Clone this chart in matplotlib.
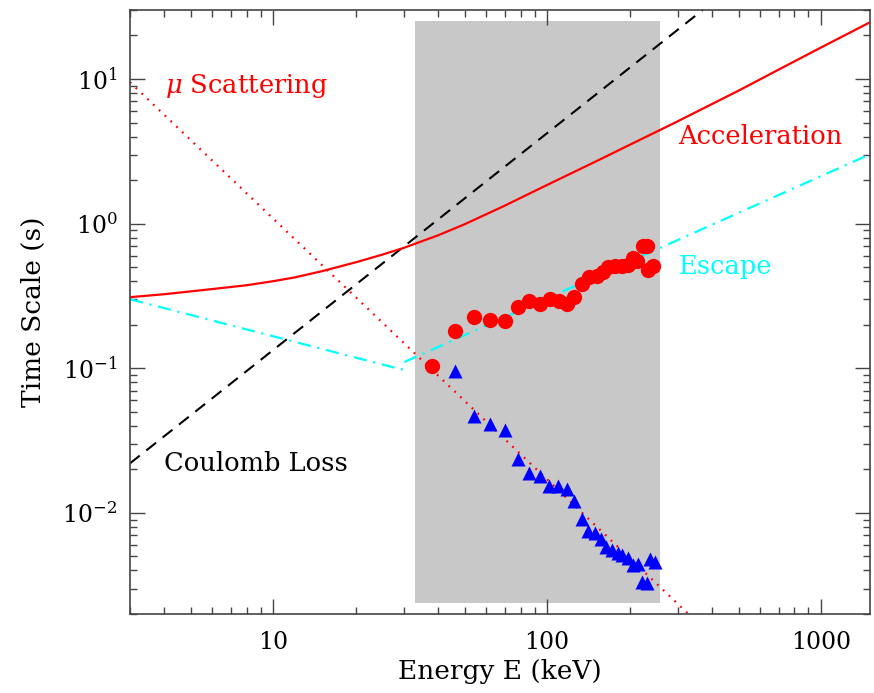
import numpy as np
import matplotlib
matplotlib.use('Agg')
import matplotlib.pyplot as plt
from matplotlib.ticker import LogLocator, NullFormatter, FixedLocator, FixedFormatter

# energies in keV, time scales in s
acc_e = [3, 4, 5, 6, 8, 10, 12, 15, 20, 25, 30, 40, 50, 70, 100, 150, 200, 300, 500, 700, 1000, 1500]
acc_t = [0.310, 0.325, 0.340, 0.353, 0.375, 0.400, 0.425, 0.468, 0.540, 0.610, 0.680, 0.830,
         0.990, 1.33, 1.85, 2.68, 3.50, 5.10, 8.3, 11.6, 16.5, 24.5]

cou_e = [3, 370]
cou_t = [0.022, 30.0]

sca_e = [3, 330]
sca_t = [9.5, 0.00198]

esc_e = [3, 29.5, 30, 1500]
esc_t = [0.30, 0.098, 0.110, 3.0]

circ_e = [37.9, 46.1, 54.2, 62.0, 70.3, 78.0, 86.2, 94.2, 102.5, 110.9, 118.6, 125.8,
          133.9, 142.6, 151.8, 160.4, 167.4, 177.0, 187.4, 198.1, 206.5, 213.6,
          224.5, 231.1, 234.3, 244.3]
circ_t = [0.103, 0.182, 0.226, 0.217, 0.211, 0.264, 0.290, 0.280, 0.302, 0.290, 0.279, 0.311,
          0.383, 0.428, 0.437, 0.461, 0.502, 0.513, 0.513, 0.521, 0.579, 0.549,
          0.705, 0.705, 0.481, 0.507]

tri_e = [46.1, 54.2, 62.0, 70.3, 78.0, 86.2, 94.2, 101.9, 110.0, 118.6, 125.5, 133.9,
         141.4, 149.6, 157.2, 164.7, 173.0, 181.2, 187.9, 197.2, 205.9, 215.0,
         221.2, 231.1, 237.6, 248.3]
tri_t = [0.0953, 0.0471, 0.0415, 0.0377, 0.0236, 0.0189, 0.0179, 0.0153, 0.0153, 0.0147, 0.0121, 0.0091,
         0.00748, 0.00721, 0.00655, 0.00580, 0.00550, 0.00530, 0.00510, 0.00484, 0.00433, 0.00440,
         0.00332, 0.00329, 0.00482, 0.00456]

shade_e = [33, 258]
shade_t = [0.0024, 25]

plt.rcParams['font.family'] = ['DejaVu Serif']
plt.rcParams['mathtext.fontset'] = 'dejavuserif'

fig = plt.figure(figsize=(8.74, 6.93), dpi=100)
ax = fig.add_axes([0.1487, 0.114, 0.8467, 0.8716])

ax.fill_between(shade_e, shade_t[0], shade_t[1], color='#c8c8c8', lw=0, zorder=0)

ax.plot(cou_e, cou_t, color='black', lw=1.5, dashes=(6, 4), zorder=2)
ax.plot(sca_e, sca_t, color='red', lw=1.6, dashes=(0.8, 2.8), zorder=2)
ax.plot(esc_e, esc_t, color='cyan', lw=1.6, dashes=(6, 3, 1, 3), zorder=2)
ax.plot(acc_e, acc_t, color='red', lw=1.6, zorder=2)

ax.plot(circ_e, circ_t, 'o', color='red', ms=11, mec='none', zorder=3)
ax.plot(tri_e, tri_t, '^', color='blue', ms=10, mec='none', zorder=3)

fs = 18.5
ax.text(4.04, 9.0, r'$\mu$ Scattering', color='red', fontsize=fs, va='center', ha='left')
ax.text(301, 3.99, 'Acceleration', color='red', fontsize=fs, va='center', ha='left')
ax.text(301, 0.505, 'Escape', color='cyan', fontsize=fs, va='center', ha='left')
ax.text(4.0, 0.022, 'Coulomb Loss', color='black', fontsize=fs, va='center', ha='left')

ax.set_xscale('log')
ax.set_yscale('log')
ax.set_xlim(3, 1510)
ax.set_ylim(0.002, 30)

ax.xaxis.set_major_locator(FixedLocator([10, 100, 1000]))
ax.xaxis.set_major_formatter(FixedFormatter(['10', '100', '1000']))
ax.xaxis.set_minor_locator(LogLocator(base=10, subs=np.arange(2, 10)))
ax.xaxis.set_minor_formatter(NullFormatter())
ax.yaxis.set_minor_locator(LogLocator(base=10, subs=np.arange(2, 10)))
ax.yaxis.set_minor_formatter(NullFormatter())

edge = '#444444'
for s in ax.spines.values():
    s.set_color(edge)
    s.set_linewidth(1.2)
ax.tick_params(which='both', direction='in', top=True, right=True, color=edge, width=1)
ax.tick_params(which='major', length=11, labelsize=17)
ax.tick_params(axis='x', which='major', pad=12)
ax.tick_params(axis='y', which='major', pad=9)
ax.tick_params(which='minor', length=5)

ax.set_xlabel('Energy E (keV)', fontsize=19, labelpad=4)
ax.set_ylabel('Time Scale (s)', fontsize=19, labelpad=12)

fig.savefig('out.png', dpi=100)
